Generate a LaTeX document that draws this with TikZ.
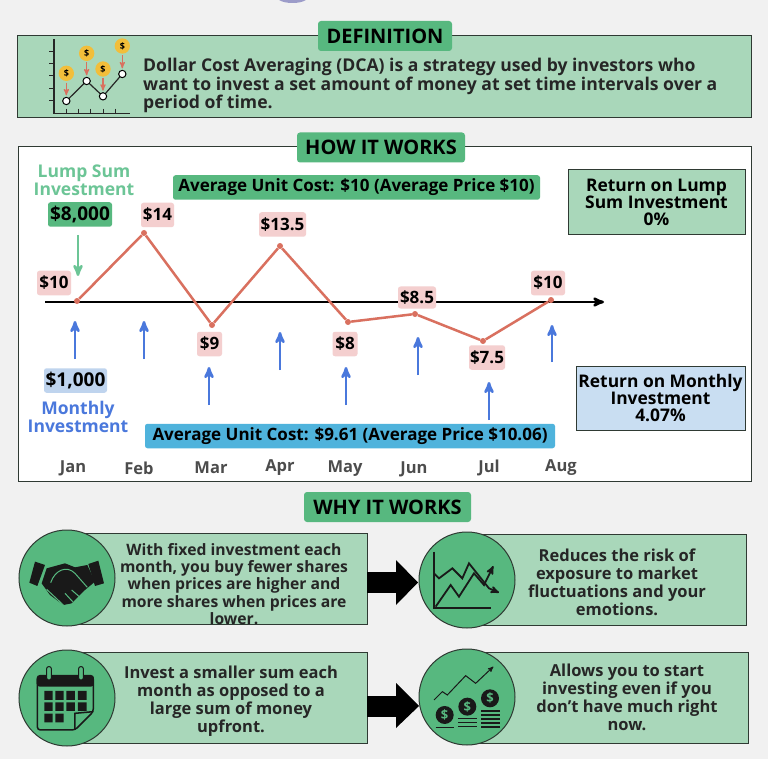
\documentclass[tikz,border=0pt]{standalone}
\usepackage{fontspec}
\setmainfont{Open Sans}
\usetikzlibrary{arrows}
\definecolor{pagegray}{HTML}{F1F1F1}
\definecolor{palegreen}{HTML}{A9D7BA}
\definecolor{midgreen}{HTML}{57B87F}
\definecolor{lumpgreen}{HTML}{6CC596}
\definecolor{pinkbg}{HTML}{F4CFCF}
\definecolor{redline}{HTML}{D9705F}
\definecolor{bluearrow}{HTML}{4A78DC}
\definecolor{bluebg}{HTML}{BFD4EE}
\definecolor{skybg}{HTML}{4FB3DC}
\definecolor{paleblue}{HTML}{C9DEF2}
\definecolor{darkline}{HTML}{2F3A33}
\definecolor{coin}{HTML}{F2BE3A}
\begin{document}
\begin{tikzpicture}[x=1pt,y=-1pt,font=\bfseries,
panel/.style={draw=darkline,line width=1pt,fill=palegreen,minimum width=#1,inner sep=0pt},
tab/.style={fill=midgreen,rounded corners=3pt,inner sep=0pt,minimum height=30pt,font=\fontsize{20}{21}\selectfont\bfseries},
tag/.style={fill=#1,rounded corners=2.5pt,inner sep=0pt,minimum height=24.5pt,font=\fontsize{17}{18}\selectfont\bfseries},
money/.style={font=\fontsize{19}{20}\selectfont\bfseries},
body/.style={align=center,inner sep=0pt,font=\fontsize{16.5}{18}\selectfont\bfseries,text=black!85},
month/.style={inner sep=0pt,text=black!70,font=\fontsize{16.5}{17}\selectfont\bfseries},
disc/.style={draw=darkline,line width=1pt,fill=midgreen,circle,minimum size=96pt,inner sep=0pt},
bigarrow/.style={line width=21pt,draw=black,-{}},
buy/.style={draw=bluearrow,line width=2.6pt,-stealth'},
pricedot/.style={circle,fill=redline,minimum size=6pt,inner sep=0pt}]
\useasboundingbox[fill=pagegray](0,0)rectangle(768,759);
\fill[blue!30!gray!60](279,0)..controls(285,4)and(300,4)..(306,0)--cycle;

\node[panel=734pt,minimum height=82pt](defbox)at(384,77){};
\node[tab,minimum width=134pt](deftab)at(385,36){DEFINITION};
\node[align=left,anchor=north west,inner sep=0pt,font=\fontsize{17.6}{17.6}\selectfont\bfseries,text=black!85](deftext)at(143,58){Dollar Cost Averaging (DCA) is a strategy used by investors who\\want to invest a set amount of money at set time intervals over a\\period of time.};

\begin{scope}[shift={(0,0)},x=0.3333pt,y=-0.3333pt]
\draw[line width=1.2pt,black!85](162,118)--(162,340)--(390,340);
\draw[line width=1pt,black!85](148,154)--(162,154)(148,191)--(162,191)(148,228)--(162,228)(148,265)--(162,265)(148,302)--(162,302)(199,326)--(199,340)(236,326)--(236,340)(273,326)--(273,340)(311,326)--(311,340)(348,326)--(348,340);
\draw[line width=1.2pt,black!85](199,303)--(260,243)--(309,289)--(367,222);
\draw[line width=1pt,black,fill=white](199,303)circle(11)(260,243)circle(11)(309,289)circle(11)(367,222)circle(11);
\fill[coin](199,220)circle(23)(260,160)circle(23)(309,207)circle(23)(367,138)circle(23);
\node[font=\fontsize{9}{9}\selectfont\bfseries](coina)at(199,220){\$};
\node[font=\fontsize{9}{9}\selectfont\bfseries](coinb)at(260,160){\$};
\node[font=\fontsize{9}{9}\selectfont\bfseries](coinc)at(309,207){\$};
\node[font=\fontsize{9}{9}\selectfont\bfseries](coind)at(367,138){\$};
\draw[redline,line width=1.2pt,-stealth'](199,248)--(199,286);
\draw[redline,line width=1.2pt,-stealth'](260,186)--(260,226);
\draw[redline,line width=1.2pt,-stealth'](309,234)--(309,272);
\draw[redline,line width=1.2pt,-stealth'](367,166)--(367,205);
\end{scope}

\node[panel=733pt,fill=white,minimum height=334pt](howbox)at(384.5,314){};
\node[tab,minimum width=168pt](howtab)at(381,147.5){HOW IT WORKS};
\node[align=center,inner sep=0pt,text=lumpgreen,font=\fontsize{17.5}{18}\selectfont\bfseries](lumplabel)at(84,180){Lump Sum\\Investment};
\node[tag=midgreen,money,minimum width=64pt](lumptag)at(80,214.5){\$8,000};
\node[tag=midgreen,minimum width=367pt](avglump)at(356.5,187.5){Average Unit Cost: \$10 (Average Price \$10)};
\node[panel=177pt,minimum height=65pt,align=center,font=\fontsize{17.4}{17.2}\selectfont\bfseries](retlump)at(656.5,202.5){Return on Lump\\Sum Investment\\0\%};

\coordinate(axisl)at(45,302);
\coordinate(axisr)at(604,302);
\draw[line width=2.5pt,-stealth'](axisl)--(axisr);
\coordinate(lumptop)at(78,235);
\coordinate(lumpend)at(78,276);
\draw[draw=lumpgreen,line width=2.6pt,-stealth'](lumptop)--(lumpend);

\node[pricedot](jan)at(77,301){};
\node[pricedot](feb)at(144,233){};
\node[pricedot](mar)at(212,325){};
\node[pricedot](apr)at(280,246){};
\node[pricedot](may)at(348,322){};
\node[pricedot](jun)at(415,314){};
\node[pricedot](jul)at(483,341){};
\node[pricedot](aug)at(551,300){};
\draw[redline,line width=2.5pt](jan)--(feb)--(mar)--(apr)--(may)--(jun)--(jul)--(aug);

\node[tag=pinkbg,minimum width=34pt](pjan)at(54,283){\$10};
\node[tag=pinkbg,minimum width=33pt](pfeb)at(157.5,215){\$14};
\node[tag=pinkbg,minimum width=47pt](papr)at(282.5,224.5){\$13.5};
\node[tag=pinkbg,minimum width=25pt](pmar)at(209.5,344){\$9};
\node[tag=pinkbg,minimum width=25pt](pmay)at(345,344){\$8};
\node[tag=pinkbg,minimum width=38pt,minimum height=22pt](pjun)at(417,297.5){\$8.5};
\node[tag=pinkbg,minimum width=36pt](pjul)at(487,357.5){\$7.5};
\node[tag=pinkbg,minimum width=34pt](paug)at(548,283){\$10};

\coordinate(bjan)at(75,359);\coordinate(tjan)at(75,321);
\coordinate(bfeb)at(144,359);\coordinate(tfeb)at(144,321);
\coordinate(bmar)at(209,405);\coordinate(tmar)at(209,367);
\coordinate(bapr)at(280,370);\coordinate(tapr)at(280,332);
\coordinate(bmay)at(346,405);\coordinate(tmay)at(346,367);
\coordinate(bjun)at(418,375);\coordinate(tjun)at(418,337);
\coordinate(bjul)at(489,420);\coordinate(tjul)at(489,382);
\coordinate(baug)at(552,362);\coordinate(taug)at(552,325);
\draw[buy](bjan)--(tjan);
\draw[buy](bfeb)--(tfeb);
\draw[buy](bmar)--(tmar);
\draw[buy](bapr)--(tapr);
\draw[buy](bmay)--(tmay);
\draw[buy](bjun)--(tjun);
\draw[buy](bjul)--(tjul);
\draw[buy](baug)--(taug);

\node[tag=bluebg,money,minimum width=63pt](montag)at(75.5,380.5){\$1,000};
\node[align=center,inner sep=0pt,text=bluearrow,font=\fontsize{17.5}{18}\selectfont\bfseries](monlabel)at(78,417){Monthly\\Investment};
\node[tag=skybg,minimum width=410pt](avgmon)at(350,436){Average Unit Cost: \$9.61 (Average Price \$10.06)};
\node[panel=169pt,fill=paleblue,minimum height=64pt,align=center,font=\fontsize{17.4}{17.4}\selectfont\bfseries](retmon)at(660.5,398){Return on Monthly\\Investment\\4.07\%};

\node[month](mjan)at(73,468){Jan};
\node[month](mfeb)at(139,468){Feb};
\node[month](mmar)at(211,468){Mar};
\node[month](mapr)at(280,468){Apr};
\node[month](mmay)at(345,469){May};
\node[month](mjun)at(414,469){Jun};
\node[month](mjul)at(489,468){Jul};
\node[month](maug)at(561,468){Aug};

\node[tab,minimum width=167pt](whytab)at(387.5,507){WHY IT WORKS};

\node[panel=297pt,minimum height=91pt](whya)at(218.5,578.5){};
\node[panel=266pt,minimum height=91pt](whyb)at(613,579.5){};
\node[panel=297pt,minimum height=91pt](whyc)at(218.5,697.5){};
\node[panel=268pt,minimum height=91pt](whyd)at(614,697.5){};

\draw[bigarrow](367,582.5)--(398,582.5);
\fill[black](396,560)--(418,582.5)--(396,605)--cycle;
\draw[bigarrow](367,706)--(398,706);
\fill[black](396,683)--(419,706)--(396,728)--cycle;

\node[disc](disca)at(67,578){};
\node[disc](discb)at(467,580){};
\node[disc](discc)at(67,698){};
\node[disc](discd)at(467,697){};

\node[body,font=\fontsize{15.7}{17.4}\selectfont\bfseries](txta)at(234,584){With fixed investment each\\month, you buy fewer shares\\when prices are higher and\\more shares when prices are\\lower.};
\node[body](txtb)at(617,582.5){Reduces the risk of\\exposure to market\\fluctuations and your\\emotions.};
\node[body](txtc)at(231,701){Invest a smaller sum each\\month as opposed to a\\large sum of money\\upfront.};
\node[body](txtd)at(627,697.5){Allows you to start\\investing even if you\\don’t have much right\\now.};

\begin{scope}[shift={(0,510)},x=0.3333pt,y=-0.3333pt]
\fill[black!90](105,155)--(135,165)--(112,228)--(88,218)--cycle(295,152)--(312,220)--(285,228)--(265,162)--cycle;
\fill[black!90](140,175)--(195,160)--(225,172)--(262,165)--(285,215)--(255,240)--(215,280)--(190,285)--(150,255)--(125,220)--cycle;
\draw[midgreen,line width=1pt](152,218)..controls(165,180)and(200,165)..(225,190)(225,190)--(262,232)(215,240)--(240,262)(195,250)--(218,275);
\draw[midgreen,line width=1pt](140,238)--(190,285);
\end{scope}

\begin{scope}[shift={(384,510)},x=0.3333pt,y=-0.3333pt]
\draw[black!90,line width=2pt](150,125)--(150,295)--(320,295);
\draw[black!90,line width=1.8pt,-stealth'](150,190)--(165,205)--(205,175)--(235,205)--(255,160)--(315,235)--(345,248);
\draw[black!90,line width=1.8pt,-stealth'](155,290)--(200,225)--(225,260)--(270,190)--(300,225)--(328,168);
\end{scope}

\begin{scope}[shift={(0,510)},x=0.3333pt,y=-0.3333pt]
\draw[black!90,line width=1.5pt,fill=midgreen,rounded corners=3pt](112,500)--(112,660)--(225,660)--(280,605)--(280,500)--cycle;
\fill[black!90,rounded corners=3pt](110,495)rectangle(282,530);
\draw[black!90,fill=midgreen,line width=1pt,rounded corners=2pt](140,470)rectangle(154,510)(236,470)rectangle(250,510);
\fill[black!90](133,543)rectangle(158,570)(166,543)rectangle(191,570)(199,543)rectangle(225,570)(234,543)rectangle(260,570)(133,577)rectangle(158,603)(166,577)rectangle(191,603)(199,577)rectangle(225,603)(234,577)rectangle(260,603)(133,611)rectangle(158,637)(166,611)rectangle(191,637);
\draw[black!90,line width=1.5pt](225,660)--(225,610)--(280,605);
\end{scope}

\begin{scope}[shift={(384,510)},x=0.3333pt,y=-0.3333pt]
\draw[black!90,line width=1pt,-stealth'](150,570)--(175,545)--(190,555)--(245,497)--(275,520)--(328,470);
\fill[black!90](182,615)circle(27)(250,590)circle(27)(318,565)circle(27);
\node[text=midgreen,font=\fontsize{13}{13}\selectfont\bfseries](coinx)at(182,615){\$};
\node[text=midgreen,font=\fontsize{13}{13}\selectfont\bfseries](coiny)at(250,590){\$};
\node[text=midgreen,font=\fontsize{13}{13}\selectfont\bfseries](coinz)at(318,565){\$};
\draw[black!90,line width=1.2pt](155,652)--(210,652)(222,625)--(280,625)(222,637)--(280,637)(222,650)--(280,650)(292,603)--(348,603)(292,615)--(348,615)(292,627)--(348,627)(292,639)--(348,639)(292,651)--(348,651);
\end{scope}
\end{tikzpicture}
\end{document}
